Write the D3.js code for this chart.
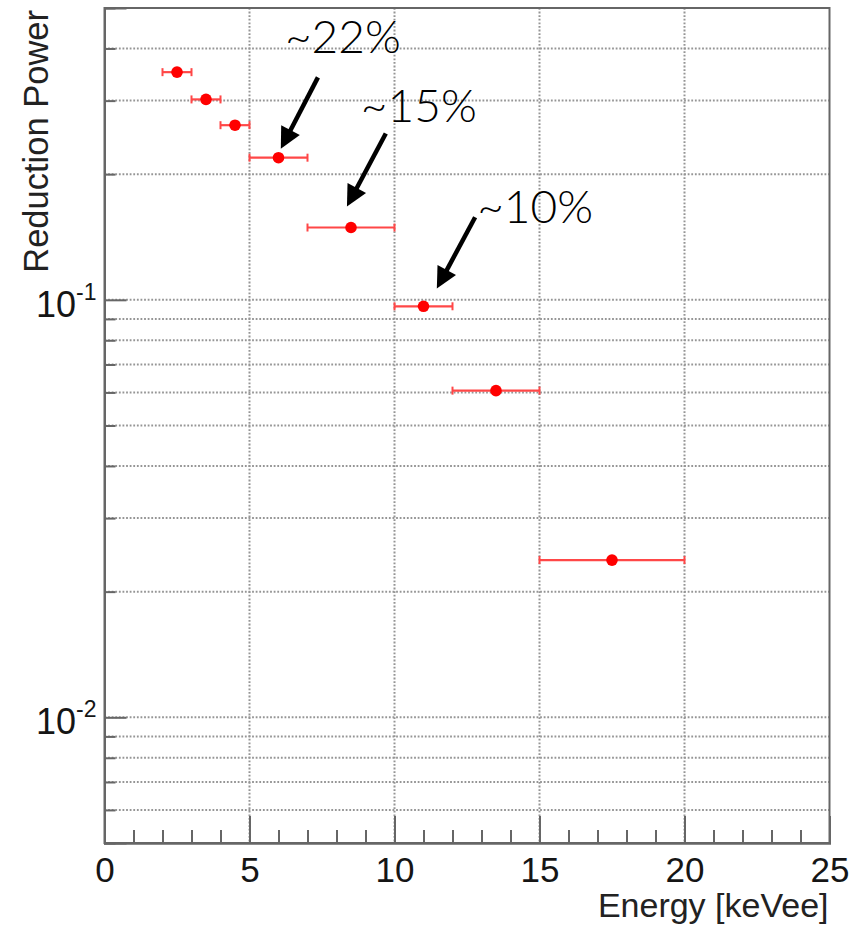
<!DOCTYPE html>
<html>
<head>
<meta charset="utf-8">
<script src="https://cdn.jsdelivr.net/npm/d3@7"></script>
<style>
  html, body { margin: 0; padding: 0; background: #fff; }
  svg { display: block; }
</style>
</head>
<body>
<svg id="chart" width="865" height="927"></svg>
<script>
// Energy bins [keVee]: centre and half-width, with the measured reduction power
const binCenter   = [2.5, 3.5, 4.5, 6, 8.5, 11, 13.5, 17.5];
const binHalfWidth = [0.5, 0.5, 0.5, 1, 1.5, 1, 1.5, 2.5];
const reductionPower = [0.351, 0.302, 0.262, 0.219, 0.149, 0.0965, 0.0606, 0.0238];

// Axis ticks
const xMajorTicks = [0, 5, 10, 15, 20, 25];
const xMinorTicks = [1, 2, 3, 4, 6, 7, 8, 9, 11, 12, 13, 14, 16, 17, 18, 19, 21, 22, 23, 24];
const yMajorTicks = [0.1, 0.01];
const yMajorExponent = ["-1", "-2"];
const yMinorTicks = [0.4, 0.3, 0.2, 0.09, 0.08, 0.07, 0.06, 0.05, 0.04, 0.03, 0.02,
                     0.009, 0.008, 0.007, 0.006];

// Annotations: label text, label anchor, arrow tail and arrow tip (data units)
const noteText  = ["~22%", "~15%", "~10%"];
const noteLabelX = [6.22, 8.84, 12.85];
const noteLabelY = [0.390, 0.266, 0.1526];
const noteTailX = [7.36, 9.70, 12.78];
const noteTailY = [0.341, 0.2503, 0.1577];
const noteTipX  = [6.08, 8.36, 11.46];
const noteTipY  = [0.230, 0.1673, 0.1064];

const svg = d3.select("#chart");
const margin = { left: 104.5, top: 8, right: 865 - 829.5, bottom: 927 - 843 };
const W = 865 - margin.left - margin.right;
const H = 927 - margin.top - margin.bottom;

const x = d3.scaleLinear().domain([0, 25]).range([0, W]);
const y = d3.scaleLog().domain([0.005, 0.5]).range([H, 0]);

const g = svg.append("g").attr("transform", `translate(${margin.left},${margin.top})`);

const gridColor = "#959595";
const axisColor = "#666666";
const textColor = "#151515";
const font = "'Liberation Sans', Arial, Helvetica, sans-serif";

// Dotted grid lines
g.append("g").selectAll("line.hgrid")
  .data(yMajorTicks.concat(yMinorTicks))
  .join("line")
  .attr("x1", 0).attr("x2", W)
  .attr("y1", d => y(d)).attr("y2", d => y(d))
  .attr("stroke", gridColor).attr("stroke-width", 2)
  .attr("stroke-dasharray", "1.8,1.8");

g.append("g").selectAll("line.vgrid")
  .data([5, 10, 15, 20])
  .join("line")
  .attr("x1", d => x(d)).attr("x2", d => x(d))
  .attr("y1", 0).attr("y2", H)
  .attr("stroke", gridColor).attr("stroke-width", 2)
  .attr("stroke-dasharray", "1.8,1.8");

// Frame
g.append("rect")
  .attr("x", 0).attr("y", 0).attr("width", W).attr("height", H)
  .attr("fill", "none").attr("stroke", axisColor).attr("stroke-width", 2);

// X axis: major ticks with labels, minor ticks without
const xAxisMajor = d3.axisBottom(x).tickValues(xMajorTicks).tickSize(-27).tickPadding(14)
  .tickFormat(d3.format("d"));
const xAxisMinor = d3.axisBottom(x).tickValues(xMinorTicks).tickSize(-13).tickFormat("");

const gxMin = g.append("g").attr("transform", `translate(0,${H})`).call(xAxisMinor);
const gx = g.append("g").attr("transform", `translate(0,${H})`).call(xAxisMajor);
[gx, gxMin].forEach(a => {
  a.select(".domain").attr("stroke", axisColor).attr("stroke-width", 2);
  a.selectAll(".tick line").attr("stroke", axisColor).attr("stroke-width", 2);
});
gx.selectAll(".tick text")
  .attr("fill", textColor)
  .style("font-family", font)
  .style("font-size", "35px");

// Y axis: decade ticks with power-of-ten labels, minor ticks without
const yAxisMajor = d3.axisLeft(y).tickValues(yMajorTicks).tickSize(-22).tickPadding(8)
  .tickFormat(() => "");
const yAxisMinor = d3.axisLeft(y).tickValues(yMinorTicks).tickSize(-11).tickFormat("");

const gyMin = g.append("g").call(yAxisMinor);
const gy = g.append("g").call(yAxisMajor);
[gy, gyMin].forEach(a => {
  a.select(".domain").attr("stroke", axisColor).attr("stroke-width", 2);
  a.selectAll(".tick line").attr("stroke", axisColor).attr("stroke-width", 2);
});
gy.selectAll(".tick text").each(function(d, i) {
  const t = d3.select(this)
    .attr("fill", textColor)
    .attr("dy", "0.46em")
    .style("font-family", font)
    .style("font-size", "36px")
    .text(null);
  t.append("tspan").text("10");
  t.append("tspan").attr("dy", -17).style("font-size", "23px").text(yMajorExponent[i]);
});

// Axis titles
svg.append("text")
  .attr("x", margin.left + W - 1).attr("y", 917)
  .attr("text-anchor", "end")
  .attr("fill", "#222")
  .style("font-family", font)
  .style("font-size", "34px")
  .text("Energy [keVee]");

svg.append("text")
  .attr("transform", "translate(48,10) rotate(-90)")
  .attr("text-anchor", "end")
  .attr("fill", "#222")
  .style("font-family", font)
  .style("font-size", "34.5px")
  .text("Reduction Power");

// Data: horizontal error bars (bin widths) and markers
const pts = binCenter.map((c, i) => ({ c, hw: binHalfWidth[i], v: reductionPower[i] }));
const errColor = "#ff4747";

const eb = g.append("g").selectAll("g").data(pts).join("g");
eb.append("line")
  .attr("x1", d => x(d.c - d.hw)).attr("x2", d => x(d.c + d.hw))
  .attr("y1", d => y(d.v)).attr("y2", d => y(d.v))
  .attr("stroke", errColor).attr("stroke-width", 2.2);
eb.append("line")
  .attr("x1", d => x(d.c - d.hw)).attr("x2", d => x(d.c - d.hw))
  .attr("y1", d => y(d.v) - 4).attr("y2", d => y(d.v) + 4)
  .attr("stroke", errColor).attr("stroke-width", 2);
eb.append("line")
  .attr("x1", d => x(d.c + d.hw)).attr("x2", d => x(d.c + d.hw))
  .attr("y1", d => y(d.v) - 4).attr("y2", d => y(d.v) + 4)
  .attr("stroke", errColor).attr("stroke-width", 2);
eb.append("circle")
  .attr("cx", d => x(d.c)).attr("cy", d => y(d.v))
  .attr("r", 5.8).attr("fill", "#ff0000");

// Annotations: arrows and percentage labels
const notes = noteText.map((t, i) => ({
  t, lx: noteLabelX[i], ly: noteLabelY[i],
  x0: noteTailX[i], y0: noteTailY[i], x1: noteTipX[i], y1: noteTipY[i]
}));

const ng = g.append("g").selectAll("g").data(notes).join("g");
ng.each(function(d) {
  const sel = d3.select(this);
  const ax = x(d.x0), ay = y(d.y0), bx = x(d.x1), by = y(d.y1);
  const dx = bx - ax, dy = by - ay, len = Math.hypot(dx, dy);
  const ux = dx / len, uy = dy / len;
  const headLen = 21, headHalf = 10.5;
  const baseX = bx - ux * headLen, baseY = by - uy * headLen;
  sel.append("line")
    .attr("x1", ax).attr("y1", ay)
    .attr("x2", baseX + ux * 2).attr("y2", baseY + uy * 2)
    .attr("stroke", "#000").attr("stroke-width", 4.5);
  sel.append("path")
    .attr("d", `M${bx},${by}L${baseX - uy * headHalf},${baseY + ux * headHalf}` +
               `L${baseX + uy * headHalf},${baseY - ux * headHalf}Z`)
    .attr("fill", "#000");
  sel.append("text")
    .attr("x", x(d.lx)).attr("y", y(d.ly))
    .attr("fill", "#000")
    .style("font-family", "Lato, 'Noto Sans', sans-serif")
    .style("font-weight", 300)
    .style("font-size", "46px")
    .text(d.t);
});
</script>
</body>
</html>
